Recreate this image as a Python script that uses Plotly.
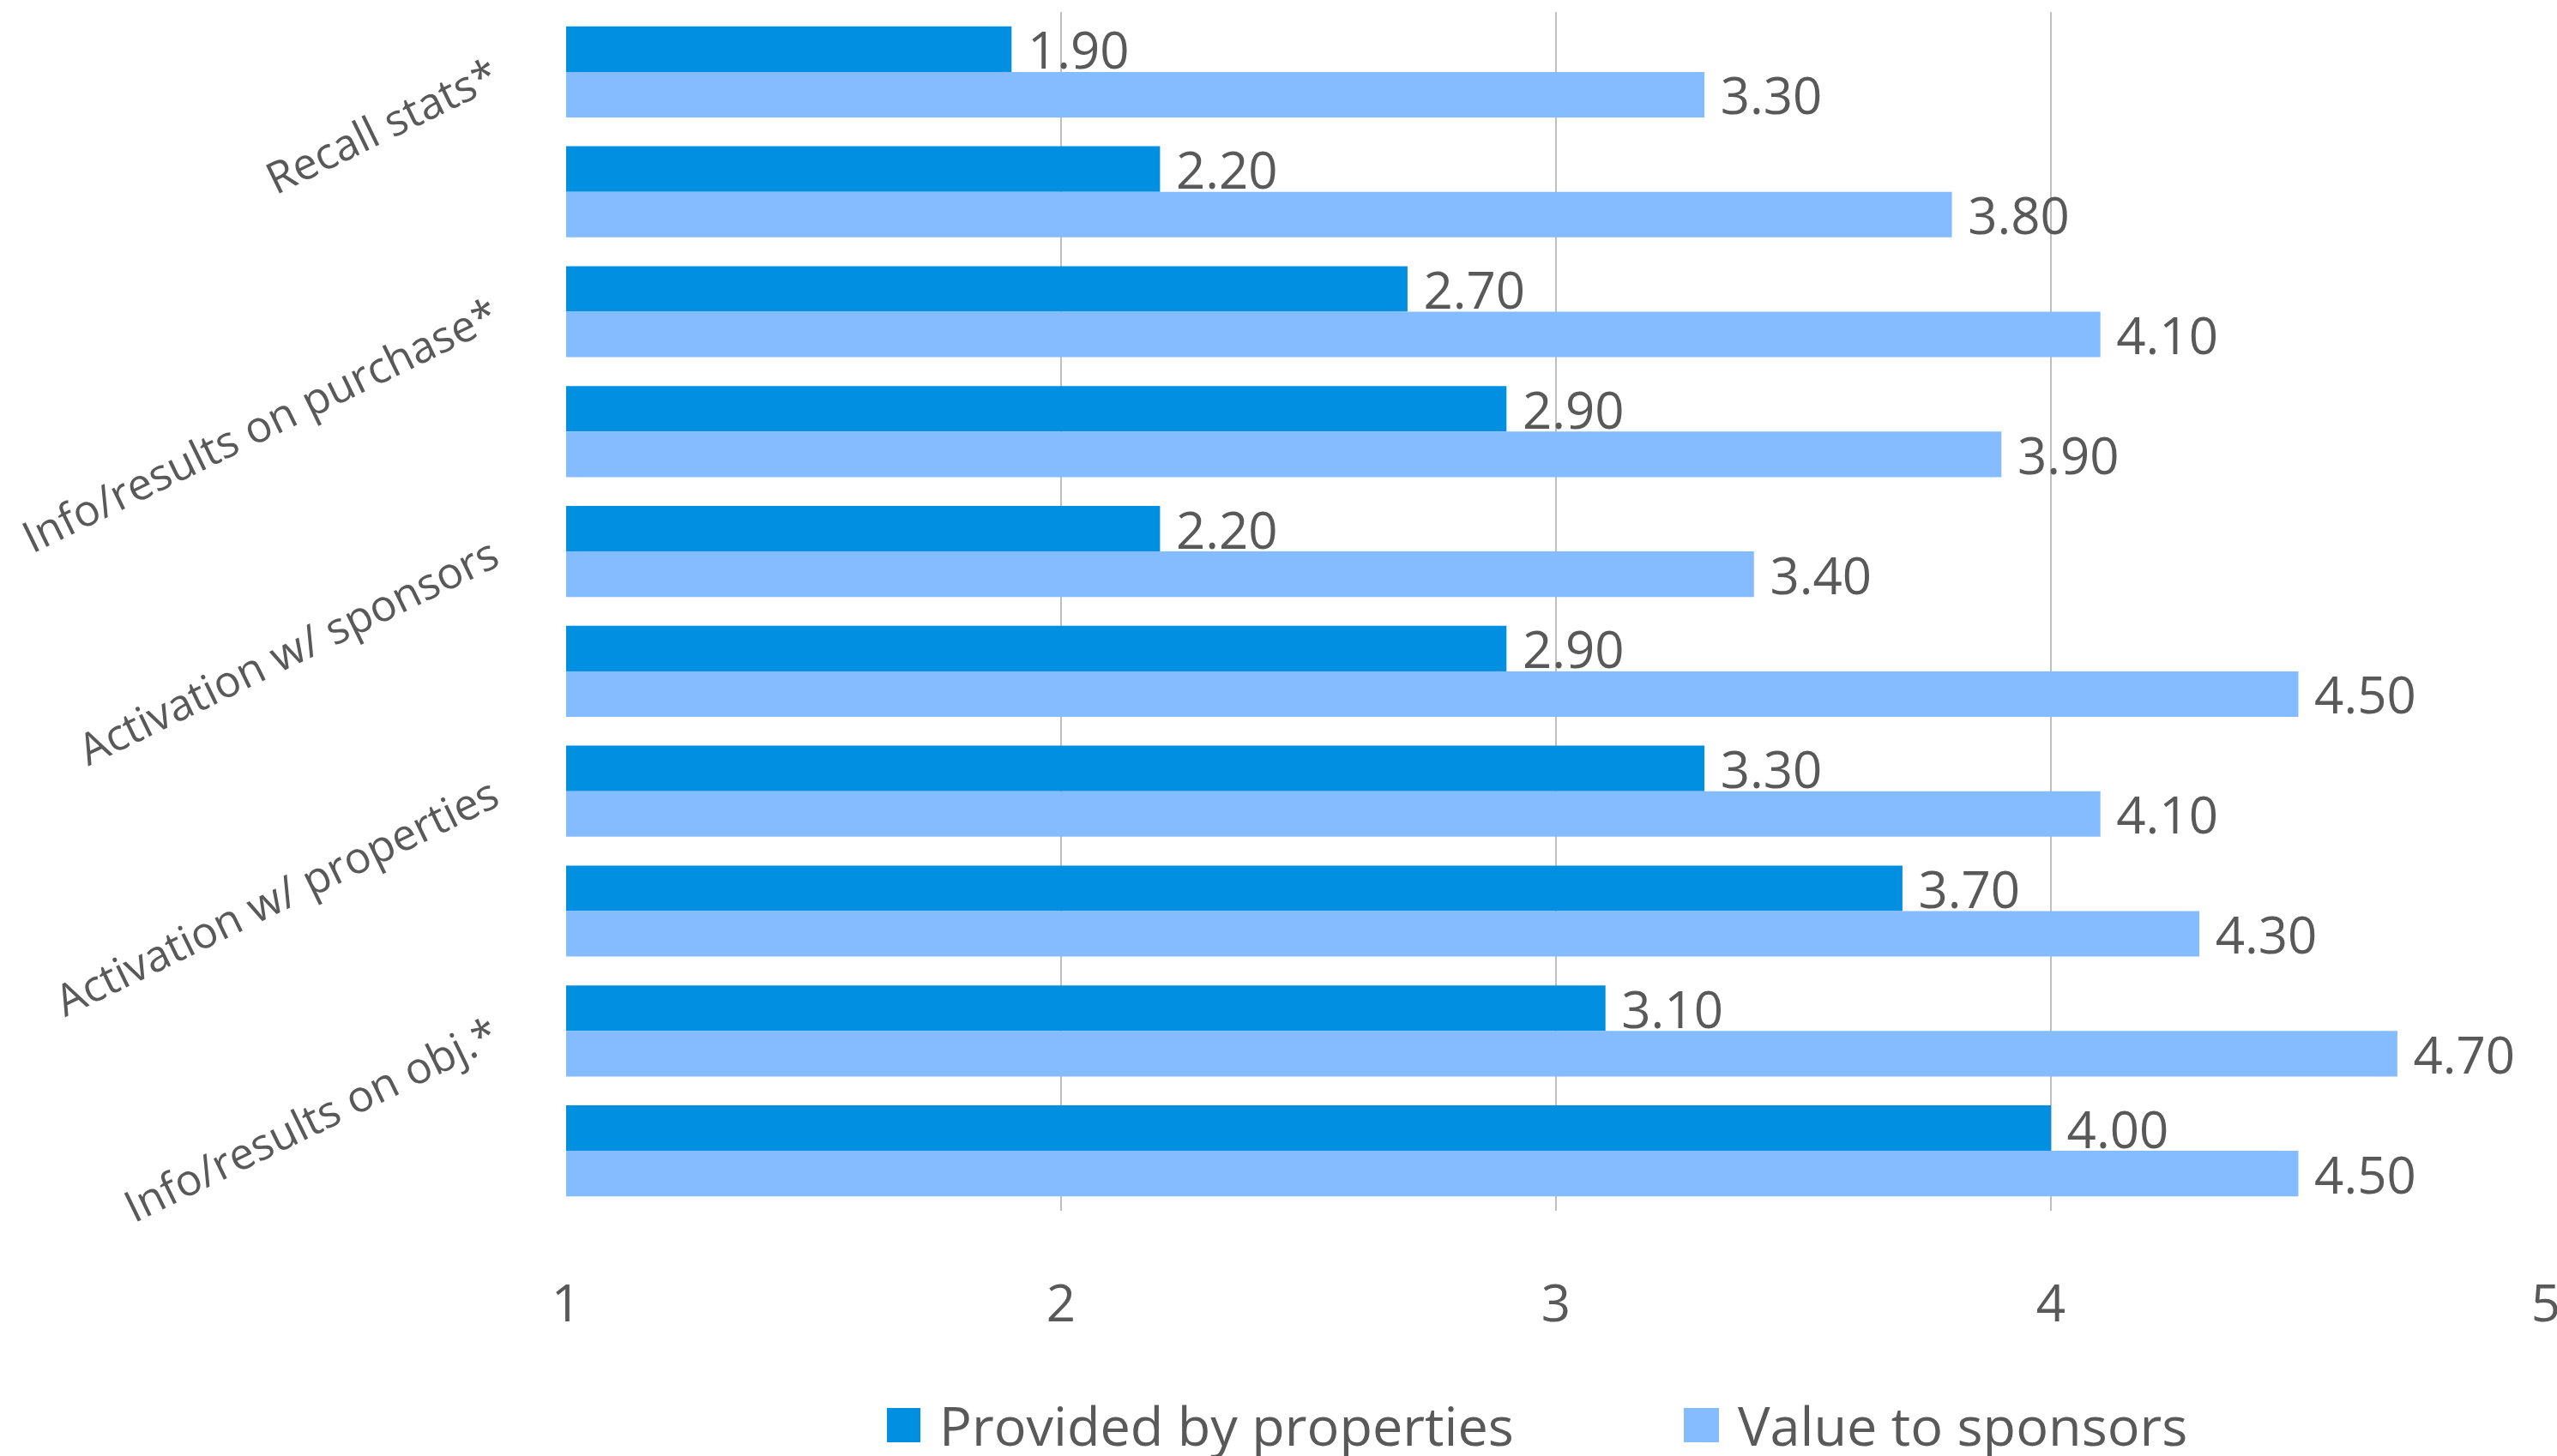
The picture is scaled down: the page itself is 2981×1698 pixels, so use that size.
import plotly.graph_objects as go

# ---- data ----
row_index = [0, 1, 2, 3, 4, 5, 6, 7, 8, 9]
provided_by_properties = [1.90, 2.20, 2.70, 2.90, 2.20, 2.90, 3.30, 3.70, 3.10, 4.00]
value_to_sponsors = [3.30, 3.80, 4.10, 3.90, 3.40, 4.50, 4.10, 4.30, 4.70, 4.50]
label_rows = [0, 2, 4, 6, 8]
label_texts = ["Recall stats*", "Info/results on purchase*", "Activation w/ sponsors",
               "Activation w/ properties", "Info/results on obj.*"]
x_ticks = [1, 2, 3, 4, 5]
series_names = ["Provided by properties", "Value to sponsors"]
series_colors = ["#008FE1", "#85BCFF"]

W, H = 2981, 1698
L, R, T, B = 660, 13, 14, 286
PW, PH = W - L - R, H - T - B
FONT = "Open Sans"
GREY = "#595959"

def px_x(px):
    return (px - L) / PW

def px_y(py):
    return (H - B - py) / PH

fig = go.Figure()
for vals, name, col in zip([provided_by_properties, value_to_sponsors], series_names, series_colors):
    fig.add_trace(go.Bar(
        y=row_index, x=vals, orientation="h", name=name,
        marker=dict(color=col, line=dict(width=0)),
        text=["\u00a0" + f"{v:.2f}" for v in vals], textposition="outside",
        textfont=dict(family=FONT, size=60, color=GREY),
        constraintext="none", cliponaxis=False, showlegend=False,
    ))

fig.update_layout(
    width=W, height=H,
    margin=dict(l=L, r=R, t=T, b=B, pad=0),
    paper_bgcolor="white", plot_bgcolor="white",
    barmode="group", bargap=0.24, bargroupgap=0,
    font=dict(family=FONT, color=GREY),
    xaxis=dict(range=[1, 5], tickvals=x_ticks, ticktext=[str(t) for t in x_ticks],
               showgrid=True, gridcolor="#BFBFBF", gridwidth=2, zeroline=False,
               showline=False, ticks="", tickfont=dict(family=FONT, size=60, color=GREY),
               ticklabelstandoff=68, ticklabeloverflow="allow", automargin=False),
    yaxis=dict(range=[9.5, -0.5], tickvals=label_rows, ticktext=label_texts,
               tickangle=-26, showgrid=False, zeroline=False, showline=False, ticks="",
               tickfont=dict(family=FONT, size=51, color=GREY), ticklabelstandoff=85,
               automargin=False),
)

# custom legend with large square keys
key_x = [(1034, 1073, 1093), (1963, 2004, 2024)]
yc = 1662
for (x0, x1, tx), name, col in zip(key_x, series_names, series_colors):
    fig.add_shape(type="rect", xref="paper", yref="paper",
                  x0=px_x(x0), x1=px_x(x1), y0=px_y(yc + 20), y1=px_y(yc - 20),
                  fillcolor=col, line=dict(width=0))
    fig.add_annotation(xref="paper", yref="paper", x=px_x(tx), y=px_y(yc),
                       xanchor="left", yanchor="middle", showarrow=False,
                       text=name, font=dict(family=FONT, size=63, color=GREY))

fig.write_html("out.html", config={"displayModeBar": False},
               post_script="document.body.style.margin='0';document.body.style.overflow='hidden';")
